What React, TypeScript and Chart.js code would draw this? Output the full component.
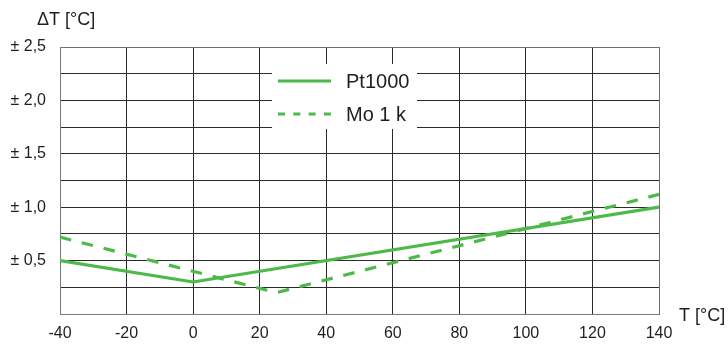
import React, { useEffect, useRef } from "react";
import { Chart, registerables } from "chart.js";

Chart.register(...registerables);

const pt1000X = [-40, 0, 140];
const pt1000Y = [0.5, 0.3, 1.0];
const mo1kX = [-40, 25, 140];
const mo1kY = [0.72, 0.2, 1.12];
const seriesLabels = ["Pt1000", "Mo 1 k"];
const yTitle = "ΔT [°C]";
const xTitle = "T [°C]";
const xMin = -40, xMax = 140, xStep = 20;
const yMin = 0, yMax = 2.5, yStep = 0.25;

const GREEN = "#4cb948";
const FONT = "'Liberation Sans', Arial, sans-serif";
const TEXT = "#1e1e1e";

const overlayPlugin = {
  id: "overlay",
  afterDraw(chart: any) {
    const ctx = chart.ctx;
    const area = chart.chartArea;
    ctx.save();
    ctx.fillStyle = TEXT;
    ctx.font = `18px ${FONT}`;
    ctx.textBaseline = "middle";
    ctx.textAlign = "left";
    ctx.fillText(yTitle, 37, 20);
    ctx.fillText(xTitle, area.right + 20, area.bottom + 2);

    // legend box
    const bx = area.left + 212, by = area.top + 17, bw = 145, bh = 65;
    ctx.fillStyle = "#ffffff";
    ctx.fillRect(bx, by, bw, bh);
    chart.data.datasets.forEach((ds: any, i: number) => {
      const ly = by + 17 + i * 33;
      ctx.beginPath();
      ctx.strokeStyle = ds.borderColor;
      ctx.lineWidth = 3;
      ctx.setLineDash(ds.borderDash ? [7, 8.3] : []);
      ctx.moveTo(bx + 6, ly);
      ctx.lineTo(bx + 59, ly);
      ctx.stroke();
      ctx.setLineDash([]);
      ctx.fillStyle = TEXT;
      ctx.font = `20px ${FONT}`;
      ctx.fillText(ds.label, bx + 74, ly + 1);
    });
    ctx.restore();
  },
};

export default function App() {
  const ref = useRef<HTMLCanvasElement | null>(null);
  useEffect(() => {
    if (!ref.current) return;
    const chart = new Chart(ref.current, {
      type: "line",
      data: {
        datasets: [
          {
            label: seriesLabels[0],
            data: pt1000X.map((x, i) => ({ x, y: pt1000Y[i] })),
            borderColor: GREEN,
            borderWidth: 3.2,
            pointRadius: 0,
            fill: false,
          },
          {
            label: seriesLabels[1],
            data: mo1kX.map((x, i) => ({ x, y: mo1kY[i] })),
            borderColor: GREEN,
            borderWidth: 3.2,
            borderDash: [11.5, 11],
            pointRadius: 0,
            fill: false,
          },
        ],
      },
      options: {
        animation: false,
        responsive: false,
        events: [],
        layout: { padding: { left: 0, right: 69, top: 47, bottom: 0 } },
        plugins: { legend: { display: false }, tooltip: { enabled: false } },
        scales: {
          x: {
            type: "linear",
            min: xMin,
            max: xMax,
            afterFit: (s: any) => { s.height = 31; },
            ticks: {
              stepSize: xStep,
              color: TEXT,
              font: { family: FONT, size: 16 },
              padding: 10,
              maxRotation: 0,
            },
            grid: {
              drawTicks: false,
              color: (c: any) => (c.tick && c.tick.value === xMax ? "#6e6e6e" : "#2a2a2a"),
              lineWidth: 1,
            },
            border: { color: "#7a7a7a", width: 1 },
          },
          y: {
            type: "linear",
            min: yMin,
            max: yMax,
            afterFit: (s: any) => { s.width = 60; },
            ticks: {
              stepSize: yStep,
              color: TEXT,
              font: { family: FONT, size: 16 },
              padding: 14,
              autoSkip: false,
              callback: (v: any) => {
                const n = Number(v);
                if (n <= 0) return "";
                if (Math.abs(n * 2 - Math.round(n * 2)) > 1e-6) return "";
                return "± " + n.toFixed(1).replace(".", ",");
              },
            },
            grid: {
              drawTicks: false,
              color: (c: any) => (c.tick && Math.abs(c.tick.value - yMax) < 1e-6 ? "#6e6e6e" : "#2a2a2a"),
              lineWidth: 1,
            },
            border: { color: "#7a7a7a", width: 1 },
          },
        },
      },
      plugins: [overlayPlugin],
    } as any);
    return () => chart.destroy();
  }, []);
  return (
    <div style={{ position: "fixed", left: 0, top: 0, width: 728, height: 345, background: "#fff" }}>
      <canvas ref={ref} width={728} height={345} style={{ display: "block", width: 728, height: 345 }} />
    </div>
  );
}
